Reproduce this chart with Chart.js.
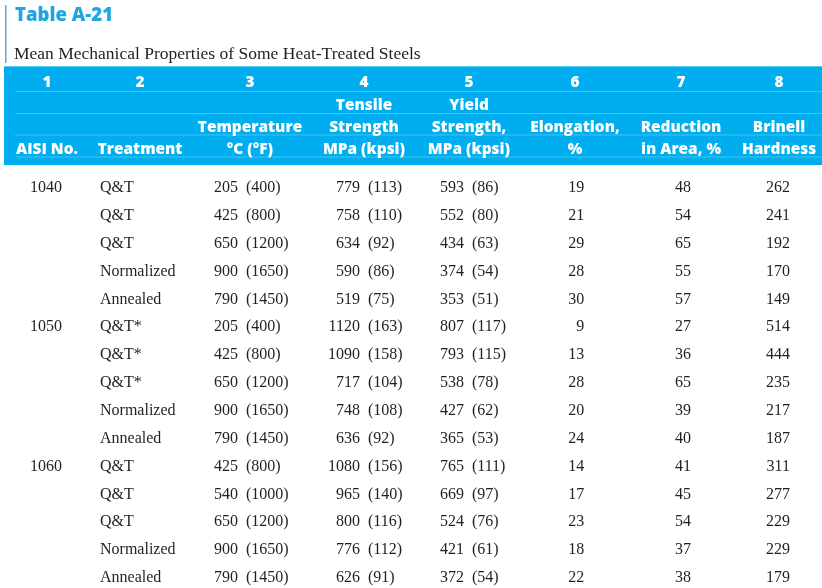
<!DOCTYPE html>
<html><head><meta charset="utf-8">
<script src="https://cdn.jsdelivr.net/npm/chart.js@4/dist/chart.umd.min.js"></script>
<style>html,body{margin:0;padding:0;background:#fff;overflow:hidden}</style>
</head><body>
<canvas id="c" width="822" height="588"></canvas>
<script>
// ---- data ----
const tableTitle = 'Table A-21';
const tableSubtitle = 'Mean Mechanical Properties of Some Heat-Treated Steels';
const columnNumbers = ['1','2','3','4','5','6','7','8'];
const headerRow1 = ['', '', '', 'Tensile', 'Yield', '', '', ''];
const headerRow2 = ['', '', 'Temperature', 'Strength', 'Strength,', 'Elongation,', 'Reduction', 'Brinell'];
const headerRow3 = ['AISI No.', 'Treatment', '°C (°F)', 'MPa (kpsi)', 'MPa (kpsi)', '%', 'in Area, %', 'Hardness'];
const aisiNo = ['1040','','','','','1050','','','','','1060','','','',''];
const treatment = ['Q&T','Q&T','Q&T','Normalized','Annealed','Q&T*','Q&T*','Q&T*','Normalized','Annealed','Q&T','Q&T','Q&T','Normalized','Annealed'];
const tempC = [205,425,650,900,790,205,425,650,900,790,425,540,650,900,790];
const tempF = [400,800,1200,1650,1450,400,800,1200,1650,1450,800,1000,1200,1650,1450];
const tensileMPa = [779,758,634,590,519,1120,1090,717,748,636,1080,965,800,776,626];
const tensileKpsi = [113,110,92,86,75,163,158,104,108,92,156,140,116,112,91];
const yieldMPa = [593,552,434,374,353,807,793,538,427,365,765,669,524,421,372];
const yieldKpsi = [86,80,63,54,51,117,115,78,62,53,111,97,76,61,54];
const elongation = [19,21,29,28,30,9,13,28,20,24,14,17,23,18,22];
const reduction = [48,54,65,55,57,27,36,65,39,40,41,45,54,37,38];
const brinell = [262,241,192,170,149,514,444,235,217,187,311,277,229,229,179];

// ---- cells per column (main text, optional parenthesised text) ----
const columns = [
  aisiNo.map(v => [String(v), '']),
  treatment.map(v => [v, '']),
  tempC.map((v, i) => [String(v), '(' + tempF[i] + ')']),
  tensileMPa.map((v, i) => [String(v), '(' + tensileKpsi[i] + ')']),
  yieldMPa.map((v, i) => [String(v), '(' + yieldKpsi[i] + ')']),
  elongation.map(v => [String(v), '']),
  reduction.map(v => [String(v), '']),
  brinell.map(v => [String(v), ''])
];

// ---- styles ----
const BLUE = '#00aeef';
const TITLE_BLUE = '#1da6e0';
const cellStyle = [
  {dx: -21.4, align: 'left'},
  {dx: -54.1, align: 'left'},
  {dx: -19,   align: 'right'},
  {dx: 0.4,   align: 'right'},
  {dx: 1.6,   align: 'right'},
  {dx: 19,    align: 'right'},
  {dx: 23,    align: 'right'},
  {dx: 19.4,  align: 'right'}
];
const headerDx = [-4.4, -14.1, -6.9, 4.4, 6.6, 9.9, 13.1, 8.4];
const PAREN_GAP = 8;

const datasets = columns.map((cells, c) => ({
  label: 'col' + (c + 1),
  data: cells.map((_, r) => ({x: c, y: r})),
  cells: cells,
  pointRadius: 0,
  pointHoverRadius: 0,
  showLine: false
}));

const tablePlugin = {
  id: 'tableDraw',
  beforeDraw(chart) {
    const ctx = chart.ctx;
    const xs = chart.scales.x;
    ctx.save();
    ctx.fillStyle = '#fff';
    ctx.fillRect(0, 0, chart.width, chart.height);
    // left rule
    ctx.fillStyle = '#5aa9d6';
    ctx.fillRect(5, 5, 1.5, 58);
    // title
    ctx.fillStyle = TITLE_BLUE;
    ctx.font = '800 18.6px "Open Sans"';
    ctx.textBaseline = 'alphabetic';
    ctx.textAlign = 'left';
    ctx.fillText(tableTitle, 15, 21);
    // subtitle
    ctx.fillStyle = '#231f20';
    ctx.font = '17.5px "Liberation Serif"';
    ctx.fillText(tableSubtitle, 14, 59);
    // band
    ctx.fillStyle = BLUE;
    ctx.fillRect(4, 66, chart.width - 4, 99);
    ctx.fillStyle = 'rgba(255,255,255,0.25)';
    [91, 113, 134.5, 156.5].forEach(y => ctx.fillRect(15, y, chart.width - 15, 1));
    ctx.fillStyle = 'rgba(255,255,255,0.35)';
    ctx.fillRect(4, 66, chart.width - 4, 1);
    // header text
    ctx.fillStyle = '#fff';
    ctx.textAlign = 'center';
    ctx.textBaseline = 'middle';
    ctx.font = '800 15.4px "Open Sans"';
    const rows = [[columnNumbers, 83], [headerRow1, 105.5], [headerRow2, 128], [headerRow3, 150]];
    rows.forEach(([labels, y]) => {
      labels.forEach((t, c) => {
        if (!t) return;
        ctx.fillText(t, xs.getPixelForValue(c) + headerDx[c], y);
      });
    });
    ctx.restore();
  },
  afterDatasetsDraw(chart) {
    const ctx = chart.ctx;
    ctx.save();
    ctx.font = '16px "Liberation Serif"';
    ctx.fillStyle = '#231f20';
    ctx.textBaseline = 'middle';
    chart.data.datasets.forEach((ds, c) => {
      const meta = chart.getDatasetMeta(c);
      const st = cellStyle[c];
      meta.data.forEach((el, r) => {
        const [main, paren] = ds.cells[r];
        if (!main) return;
        const x = el.x + st.dx;
        ctx.textAlign = st.align;
        ctx.fillText(main, x, el.y);
        if (paren) {
          ctx.textAlign = 'left';
          ctx.fillText(paren, x + PAREN_GAP, el.y);
        }
      });
    });
    ctx.restore();
  }
};

new Chart(document.getElementById('c'), {
  type: 'scatter',
  data: {datasets},
  options: {
    responsive: false,
    animation: false,
    events: [],
    layout: {padding: {top: 174, left: 0, right: 0, bottom: 0}},
    plugins: {legend: {display: false}, tooltip: {enabled: false}, title: {display: false}},
    scales: {
      x: {type: 'linear', min: -0.5, max: 7.5, display: false},
      y: {type: 'linear', reverse: true, min: -0.5, max: 14.36, display: false}
    }
  },
  plugins: [tablePlugin]
});
</script>
</body></html>
